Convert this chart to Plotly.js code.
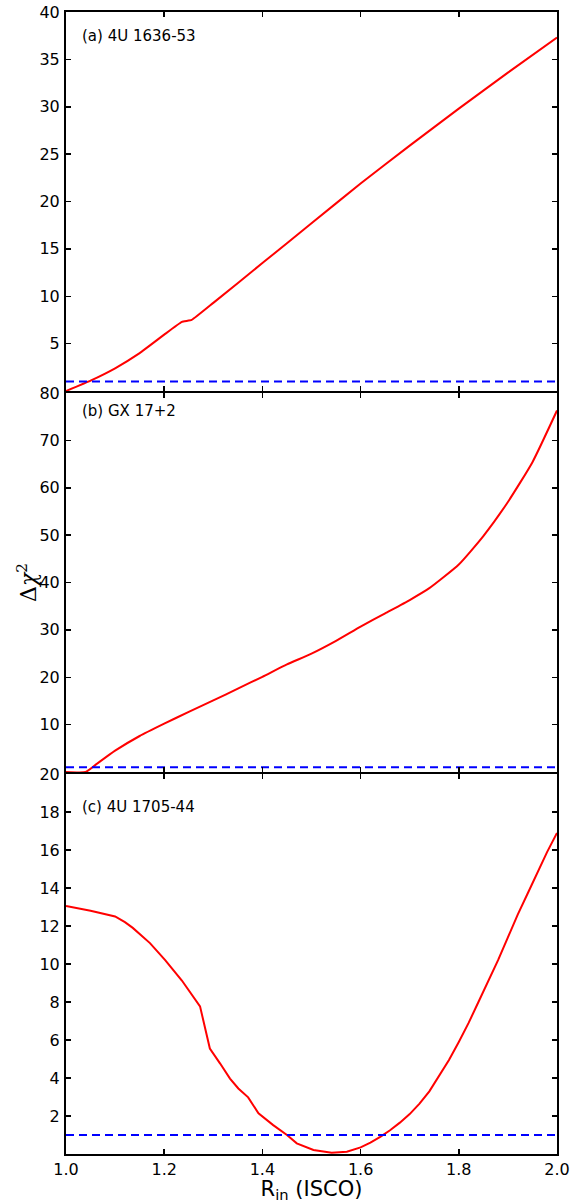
<!DOCTYPE html>
<html>
<head>
<meta charset="utf-8">
<script src="https://cdn.plot.ly/plotly-3.0.1.min.js"></script>
<style>html,body{margin:0;padding:0;background:#fff;}#chart{width:573px;height:1203px;}</style>
</head>
<body>
<div id="chart"></div>
<script>
// Panel (a) 4U 1636-53
const xA = [1.0, 1.05, 1.1, 1.15, 1.2, 1.236, 1.256, 1.3, 1.4, 1.5, 1.6, 1.7, 1.8, 1.9, 2.0];
const yA = [0.0, 1.1, 2.4, 4.0, 5.95, 7.3, 7.5, 9.3, 13.5, 17.7, 21.9, 25.9, 29.8, 33.6, 37.3];
// Panel (b) GX 17+2
const xB = [1.0, 1.04, 1.06, 1.1, 1.15, 1.2, 1.25, 1.3, 1.35, 1.4, 1.45, 1.5, 1.55, 1.6, 1.65, 1.7, 1.74, 1.8, 1.85, 1.9, 1.95, 2.0];
const yB = [0, 0, 1.5, 4.5, 7.6, 10.2, 12.7, 15.1, 17.6, 20.1, 22.7, 25.0, 27.7, 30.7, 33.5, 36.3, 38.8, 43.8, 49.8, 57.0, 65.4, 76.3];
// Panel (c) 4U 1705-44
const xC = [1.0, 1.05, 1.1, 1.12, 1.136, 1.171, 1.202, 1.236, 1.273, 1.293, 1.314, 1.334, 1.351, 1.371, 1.392, 1.422, 1.45, 1.47, 1.504, 1.541, 1.572, 1.6, 1.62, 1.64, 1.66, 1.68, 1.7, 1.72, 1.74, 1.76, 1.78, 1.8, 1.82, 1.84, 1.86, 1.88, 1.9, 1.92, 1.94, 1.96, 1.98, 2.0];
const yC = [13.05, 12.8, 12.5, 12.2, 11.9, 11.1, 10.2, 9.13, 7.77, 5.55, 4.76, 3.97, 3.45, 2.98, 2.14, 1.52, 1.0, 0.56, 0.21, 0.07, 0.12, 0.35, 0.6, 0.9, 1.25, 1.65, 2.1, 2.65, 3.3, 4.1, 4.95, 5.9, 6.9, 8.0, 9.1, 10.2, 11.4, 12.6, 13.7, 14.8, 15.9, 16.9];
// Delta chi^2 = 1 level
const xLevel = [1.0, 2.0];
const yLevel = [1, 1];

const panelLabels = ["(a) 4U 1636-53", "(b) GX 17+2", "(c) 4U 1705-44"];
const ticksA = [0, 5, 10, 15, 20, 25, 30, 35, 40];
const labelsA = ['', '5', '10', '15', '20', '25', '30', '35', '40'];
const ticksB = [0, 10, 20, 30, 40, 50, 60, 70, 80];
const labelsB = ['', '10', '20', '30', '40', '50', '60', '70', '80'];
const ticksC = [2, 4, 6, 8, 10, 12, 14, 16, 18, 20];
const labelsC = ['2', '4', '6', '8', '10', '12', '14', '16', '18', '20'];
const xTicks = [1.0, 1.2, 1.4, 1.6, 1.8, 2.0];
const xLabels = ['1.0', '1.2', '1.4', '1.6', '1.8', '2.0'];

const red = {color: '#ff0000', width: 2};
const redSmooth = {color: '#ff0000', width: 2, shape: 'spline', smoothing: 0.5};
const blue = {color: '#0000ff', width: 2, dash: '8px,5px'};

const traces = [
  {x: xA, y: yA, xaxis: 'x3', yaxis: 'y3', mode: 'lines', line: {color: '#ff0000', width: 2, shape: 'spline', smoothing: 0.3}},
  {x: xLevel, y: yLevel, xaxis: 'x3', yaxis: 'y3', mode: 'lines', line: blue},
  {x: xB, y: yB, xaxis: 'x2', yaxis: 'y2', mode: 'lines', line: redSmooth},
  {x: xLevel, y: yLevel, xaxis: 'x2', yaxis: 'y2', mode: 'lines', line: blue},
  {x: xC, y: yC, xaxis: 'x', yaxis: 'y', mode: 'lines', line: red},
  {x: xLevel, y: yLevel, xaxis: 'x', yaxis: 'y', mode: 'lines', line: blue}
];

const font = {family: 'DejaVu Sans', size: 16, color: '#000'};
function xax(anchor, labels) {
  return {anchor: anchor, range: [1.0, 2.0], tickvals: xTicks, ticktext: xLabels,
    showticklabels: labels, ticks: 'inside', ticklen: 5, tickwidth: 1.5, tickcolor: '#000',
    showline: true, linewidth: 2, linecolor: '#000', mirror: 'ticks', showgrid: false, zeroline: false,
    tickfont: font};
}
function yax(anchor, domain, range, vals, text) {
  return {anchor: anchor, domain: domain, range: range, tickvals: vals, ticktext: text,
    ticks: 'inside', ticklen: 5, tickwidth: 1.5, tickcolor: '#000',
    showline: true, linewidth: 2, linecolor: '#000', mirror: 'ticks', showgrid: false, zeroline: false,
    tickfont: font, ticklabelstandoff: 1};
}
const H = 1142;
const xa = xax('y', true);
xa.title = {text: 'R<sub>in</sub> (ISCO)', font: {family: 'DejaVu Sans', size: 21, color: '#000'}, standoff: 10};
const layout = {
  width: 573, height: 1203,
  margin: {l: 66, r: 16, t: 12, b: 49},
  showlegend: false,
  paper_bgcolor: '#fff', plot_bgcolor: '#fff',
  xaxis: xa,
  xaxis2: Object.assign(xax('y2', false), {matches: 'x'}),
  xaxis3: Object.assign(xax('y3', false), {matches: 'x'}),
  yaxis: yax('x', [0, 380 / H], [0, 20], ticksC, labelsC),
  yaxis2: yax('x2', [382 / H, 761 / H], [0, 80], ticksB, labelsB),
  yaxis3: yax('x3', [763 / H, 1], [0, 40], ticksA, labelsA),
  annotations: [
    {text: panelLabels[0], xref: 'paper', yref: 'paper', x: 0.0285, y: (1154 - 36) / H, xanchor: 'left', yanchor: 'middle', showarrow: false, font: {family: 'DejaVu Sans', size: 15, color: '#000'}},
    {text: panelLabels[1], xref: 'paper', yref: 'paper', x: 0.0285, y: (1154 - 411) / H, xanchor: 'left', yanchor: 'middle', showarrow: false, font: {family: 'DejaVu Sans', size: 15, color: '#000'}},
    {text: panelLabels[2], xref: 'paper', yref: 'paper', x: 0.0285, y: (1154 - 807) / H, xanchor: 'left', yanchor: 'middle', showarrow: false, font: {family: 'DejaVu Sans', size: 15, color: '#000'}},
    {text: 'Δ<i>χ</i><sup>2</sup>', xref: 'paper', yref: 'paper', x: (27 - 66) / 491, y: (1154 - 583) / H, xanchor: 'center', yanchor: 'middle', textangle: -90, showarrow: false, font: {family: 'DejaVu Serif', size: 22, color: '#000'}}
  ]
};
Plotly.newPlot('chart', traces, layout, {staticPlot: true});
</script>
</body>
</html>
